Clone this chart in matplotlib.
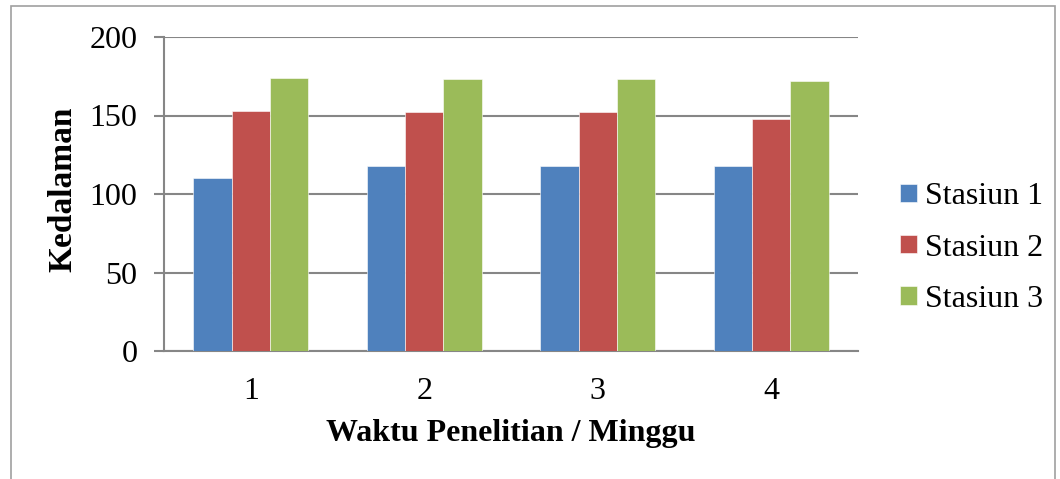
import numpy as np
import matplotlib
matplotlib.use('Agg')
import matplotlib.pyplot as plt
from matplotlib.patches import Rectangle

plt.rcParams['font.family'] = ['Liberation Serif', 'DejaVu Serif']

# Kedalaman per minggu untuk tiap stasiun
minggu = ['1', '2', '3', '4']
stasiun_1 = [110, 118, 118, 118]
stasiun_2 = [153, 152, 152, 148]
stasiun_3 = [174, 173, 173, 172]
nama_seri = ['Stasiun 1', 'Stasiun 2', 'Stasiun 3']
warna = ['#4F81BD', '#C0504D', '#9BBB59']

fig = plt.figure(figsize=(10.6, 4.79), dpi=100)
ax = fig.add_axes([164 / 1060, 1 - 351 / 479, (858 - 164) / 1060, (351 - 37) / 479])

# bingkai abu-abu di sekeliling grafik
fig.patches.append(Rectangle((11 / 1060, -0.1), (1055 - 11) / 1060, 1.1 - 6 / 479,
                             transform=fig.transFigure, fill=False,
                             edgecolor='#A0A0A0', linewidth=1.2))

x = np.arange(len(minggu))
lebar = 0.2213
for i, (data, nama, c) in enumerate(zip([stasiun_1, stasiun_2, stasiun_3], nama_seri, warna)):
    ax.bar(x + (i - 1) * lebar, data, lebar, color=c, label=nama,
           edgecolor='white', linewidth=0.4, zorder=3)

ax.set_xlim(-0.5, 3.5)
ax.set_ylim(0, 200)
ax.set_yticks([0, 50, 100, 150, 200])
ax.set_xticks(x)
ax.set_xticklabels(minggu)
ax.yaxis.grid(True, color='#868686', linewidth=1.5, zorder=0)
ax.set_axisbelow(True)

for s in ['top', 'right']:
    ax.spines[s].set_visible(False)
ax.spines['left'].set_color('#868686')
ax.spines['bottom'].set_color('#868686')
ax.spines['left'].set_linewidth(1.5)
ax.spines['bottom'].set_linewidth(1.5)

ax.tick_params(axis='y', direction='out', length=7, width=1.5, color='#868686',
               labelsize=23, pad=12)
ax.tick_params(axis='x', length=0, labelsize=23, pad=19)

ax.set_ylabel('Kedalaman', fontsize=24, fontweight='bold', va='center', ha='center')
ax.yaxis.set_label_coords(-0.145, 0.514)
ax.set_xlabel('Waktu Penelitian / Minggu', fontsize=23, fontweight='bold', va='center')
ax.xaxis.set_label_coords(0.5, (351 - 433) / 314)

fig.legend(loc='center left', bbox_to_anchor=(900 / 1060, 1 - 248 / 479),
           frameon=False, fontsize=23, handlelength=0.52, handleheight=0.52,
           handletextpad=0.25, labelspacing=0.7, borderpad=0, borderaxespad=0)

fig.savefig('out.png', dpi=100)
